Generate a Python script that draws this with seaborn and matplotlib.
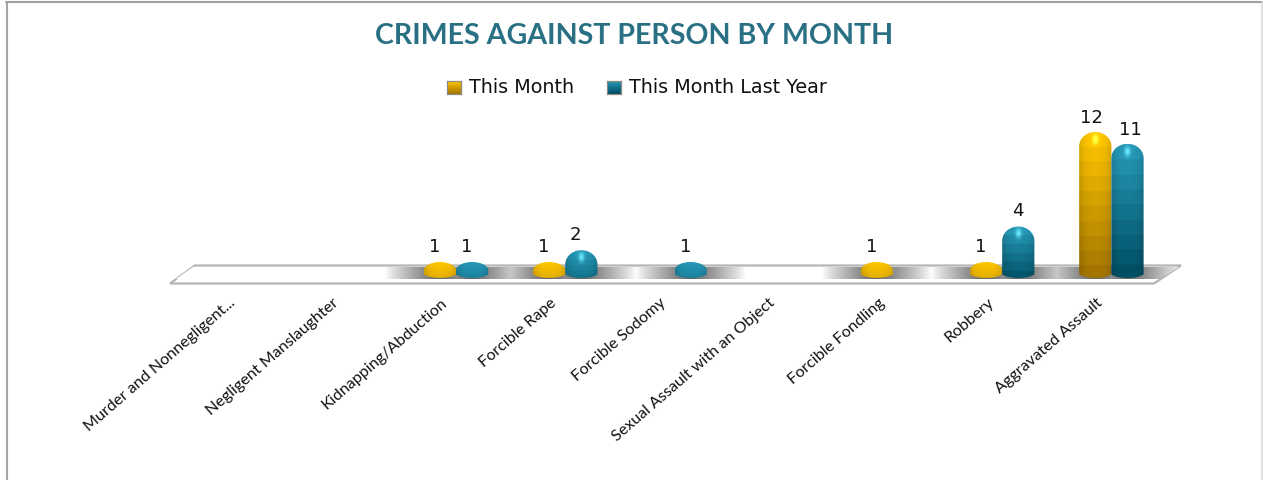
import numpy as np
import pandas as pd
import matplotlib
matplotlib.use("Agg")
import matplotlib.pyplot as plt
from matplotlib.path import Path
from matplotlib.patches import PathPatch, Polygon, Rectangle
from matplotlib.transforms import ScaledTranslation
from matplotlib.lines import Line2D
import seaborn as sns

sns.set_theme(style="white")

categories = ["Murder and Nonnegligent...", "Negligent Manslaughter", "Kidnapping/Abduction",
              "Forcible Rape", "Forcible Sodomy", "Sexual Assault with an Object",
              "Forcible Fondling", "Robbery", "Aggravated Assault"]
this_month = [0, 0, 1, 1, 0, 0, 1, 1, 12]
last_year = [0, 0, 1, 2, 1, 0, 0, 4, 11]
series_names = ["This Month", "This Month Last Year"]

W, H = 1263, 480
gold_top, gold_bottom = np.array([255, 198, 0]), np.array([165, 118, 0])
teal_top, teal_bottom = np.array([38, 152, 182]), np.array([0, 80, 102])


def fx(x):
    return x / W


def fy(y):
    return 1 - y / H


def blob_path(x0, w, h):
    # bar outline with a domed top and a curved foot below the baseline
    cap = min(1.2, 0.72 * h)
    k = 0.5523
    foot = -0.05
    x1 = x0 + w
    r = w / 2
    return Path(
        [(x0, foot), (x0, h - cap),
         (x0, h - cap + k * cap), (x0 + r - k * r, h), (x0 + r, h),
         (x0 + r + k * r, h), (x1, h - cap + k * cap), (x1, h - cap),
         (x1, foot),
         (x1 - w * 0.2, -0.45), (x0 + w * 0.2, -0.45), (x0, foot)],
        [Path.MOVETO, Path.LINETO,
         Path.CURVE4, Path.CURVE4, Path.CURVE4,
         Path.CURVE4, Path.CURVE4, Path.CURVE4,
         Path.LINETO,
         Path.CURVE4, Path.CURVE4, Path.CURVE4])


def bar_image(h, top, bottom):
    # horizontal cylinder shading, stepped vertical bands
    ny, nx = 160, 60
    bands = max(6, int(round(h * 0.8)))
    yy = np.linspace(0, 1, ny)
    depth = min(1.0, 0.1 + 0.2 * h)
    rows = np.clip(np.floor(yy * bands) / (bands - 1), 0, 1)[:, None, None] * depth
    base = top[None, None, :] * (1 - rows) + bottom[None, None, :] * rows
    xs = np.linspace(-1, 1, nx)[None, :, None]
    shade = 1.0 - 0.14 * np.abs(xs) ** 3
    img = base * shade
    # soft highlight near the top of the dome
    if h > 1:
        cy = 0.6 / (h + 0.5)
        sy = 0.4 / (h + 0.5)
        spot = np.exp(-((xs[:, :, 0] / 0.18) ** 2) - ((yy[:, None] - cy) / sy) ** 2)[:, :, None]
        img = img + np.array([90, 110, 100.0])[None, None, :] * spot * 0.8
    return np.clip(img, 0, 255).astype(np.uint8)


df = pd.DataFrame({"category": categories * 2,
                   "series": [series_names[0]] * 9 + [series_names[1]] * 9,
                   "value": this_month + last_year})

fig = plt.figure(figsize=(W / 100, H / 100), dpi=100, facecolor="white")

# outer frame
fig.add_artist(Line2D([fx(6.5), fx(6.5)], [0, fy(2)], color="#a6a6a6", lw=1.5))
fig.add_artist(Line2D([fx(6), fx(1262)], [fy(2), fy(2)], color="#a0a0a0", lw=1.5))
fig.add_artist(Line2D([fx(1262), fx(1262)], [0, fy(2)], color="#d9d9d9", lw=1.2))

# floor of the 3D plot, under the axes
floor = [(170, 283.5), (195, 265.5), (1181, 265.5), (1154, 283.5)]
fig.add_artist(Polygon([(fx(a), fy(b)) for a, b in floor], closed=True, facecolor="white",
                       edgecolor="#b5b5b5", lw=1.6, transform=fig.transFigure, zorder=-1))

base_px, unit_px = 273.8, 11.82
ymin, ymax = -1.0, 13.0
ax = fig.add_axes([fx(183), fy(base_px + unit_px), (1166 - 183) / W, (ymax - ymin) * unit_px / H])
ax.patch.set_alpha(0)

sns.barplot(data=df, x="category", y="value", hue="series", order=categories,
            hue_order=series_names, palette=["#f0b400", "#1b7f9c"], width=0.59, gap=0,
            dodge=True, legend=False, errorbar=None, ax=ax, zorder=1)
ax.set_xlabel("")
ax.set_ylabel("")
sns.despine(ax=ax, left=True, bottom=True)
ax.set_yticks([])
ax.tick_params(axis="x", length=0, pad=0)
ax.set_xticks(range(len(categories)))
ax.set_xticklabels(categories, rotation=41, ha="right", rotation_mode="anchor",
                   fontsize=11.6, family="Lato", color="#111111")
for i, t in enumerate(ax.get_xticklabels()):
    dx = -9 if i == 0 else -15
    t.set_transform(t.get_transform() + ScaledTranslation(dx / 100, -10 / 100, fig.dpi_scale_trans))

# grey shadow on the floor around each bar, kept inside the floor shape
bars = [p for p in ax.patches if isinstance(p, Rectangle)]
profile_x = np.linspace(-1, 9, 2000)
profile = np.zeros_like(profile_x)
for p in bars:
    if p.get_height() <= 0:
        continue
    c = p.get_x() + p.get_width() / 2
    profile = np.maximum(profile, np.clip(1 - np.abs(profile_x - c) / 0.5, 0, 1) ** 0.85)
band = 255 - profile[None, :, None] * 155
band = np.repeat(band, 3, axis=2).astype(np.uint8)
shadow = ax.imshow(band, extent=(-1, 9, -0.44, 0.575), aspect="auto", zorder=0.6, interpolation="bilinear")
inner = [(176, 279), (193, 267), (1179, 267), (1160, 279)]
shadow_clip = PathPatch(Path([(fx(a), fy(b)) for a, b in inner] + [(fx(176), fy(279))], closed=True),
                        transform=fig.transFigure, facecolor="none", edgecolor="none")
fig.add_artist(shadow_clip)
shadow.set_clip_box(fig.bbox)
shadow.set_clip_path(shadow_clip)

label_shift = {1: -5, 2: -6, 4: 0, 11: 3, 12: -4}
n = len(categories)
for i, p in enumerate(bars):
    h = p.get_height()
    p.set_visible(False)
    if h <= 0:
        continue
    x0, w = p.get_x(), p.get_width()
    top, bottom = (gold_top, gold_bottom) if i < n else (teal_top, teal_bottom)
    im = ax.imshow(bar_image(h, top, bottom), extent=(x0, x0 + w, -0.5, h), aspect="auto",
                   zorder=3, interpolation="bilinear")
    clip = PathPatch(blob_path(x0, w, h), transform=ax.transData, facecolor="none", edgecolor="none")
    ax.add_patch(clip)
    im.set_clip_path(clip)
    ax.annotate(f"{h:g}", (x0 + w / 2, h), xytext=(label_shift.get(int(h), 0) * 0.72, 4.6 if h < 10 else 3.4),
                textcoords="offset points", ha="center", va="bottom", fontsize=13,
                color="#111111", family="DejaVu Sans")
ax.set_xlim(-0.5, 8.5)
ax.set_ylim(ymin, ymax)

fig.text(fx(634), fy(36), "CRIMES AGAINST PERSON BY MONTH", ha="center", va="center",
         fontsize=20.6, fontweight="bold", family="Lato", color="#2a7084")

# legend keys with a small gradient, and text
for x, top, bottom, name in [(447, gold_top, gold_bottom, series_names[0]),
                             (607, teal_top, teal_bottom, series_names[1])]:
    key = fig.add_axes([fx(x), fy(94), 14 / W, 13 / H])
    key.imshow(np.linspace(top, bottom, 16)[:, None, :].astype(np.uint8), aspect="auto")
    key.set_xticks([])
    key.set_yticks([])
    for s in key.spines.values():
        s.set_edgecolor("#8c8c80")
        s.set_linewidth(0.9)
    fig.text(fx(x + 22), fy(87.5), name, ha="left", va="center", fontsize=13.8,
             family="DejaVu Sans", color="#111111")

fig.savefig("out.png", dpi=100)
